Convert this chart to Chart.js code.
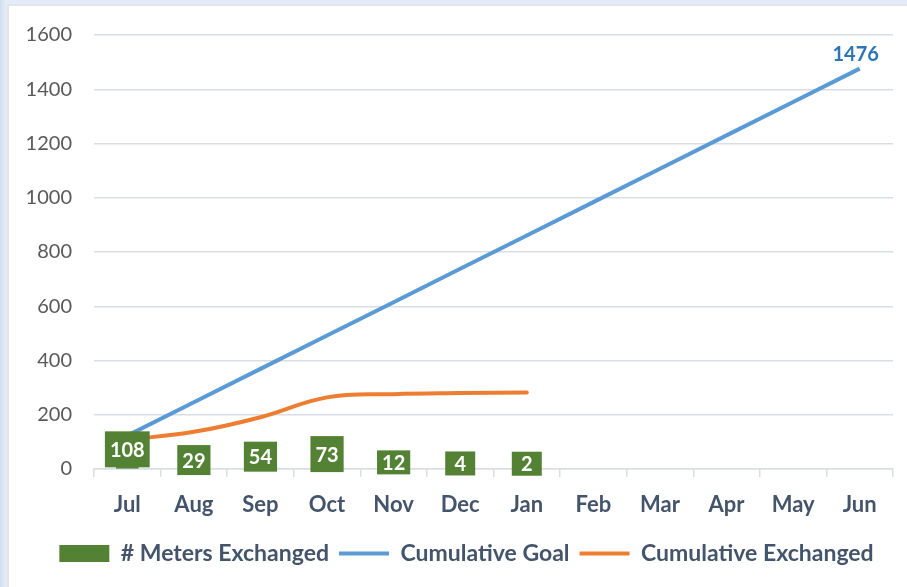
<!DOCTYPE html>
<html>
<head>
<meta charset="utf-8">
<script src="https://cdn.jsdelivr.net/npm/chart.js@4.4.1/dist/chart.umd.min.js"></script>
<style>
  html, body { margin: 0; padding: 0; }
  body { width: 907px; height: 587px; overflow: hidden; position: relative;
         background: linear-gradient(90deg, #cfdff1, #e4edf7 6px, #e4edf7); }
  #frame { position: absolute; left: 7px; top: 4px; width: 905px; height: 590px;
           background: #fff; border-left: 2px solid #e2e6eb; border-top: 2px solid #e2e6eb; }
  #chart { position: absolute; left: 0; top: 0; }
</style>
</head>
<body>
<div id="frame"></div>
<canvas id="chart" width="907" height="587"></canvas>
<script>
// dados
const months = ['Jul', 'Aug', 'Sep', 'Oct', 'Nov', 'Dec', 'Jan', 'Feb', 'Mar', 'Apr', 'May', 'Jun'];
const metersExchanged = [108, 29, 54, 73, 12, 4, 2];
const cumulativeGoal = [123, 246, 369, 492, 615, 738, 861, 984, 1107, 1230, 1353, 1476];
const cumulativeExchanged = [108, 137, 191, 264, 276, 280, 282];
const yTicks = [0, 200, 400, 600, 800, 1000, 1200, 1400, 1600];

const FONT = "Lato, 'Open Sans', sans-serif";
const GREEN = '#548235';

// caixas verdes dos rotulos + rotulo final da meta
const labelBoxes = {
    id: 'labelBoxes',
    afterLayout(chart) {
        // legenda um pouco deslocada para a direita, como no original
        chart.legend.left += 20;
        chart.legend.right += 20;
    },
    afterDatasetsDraw(chart) {
        const ctx = chart.ctx;
        const y0 = chart.scales.y.getPixelForValue(0);
        ctx.save();
        ctx.font = 'bold 20px ' + FONT;
        ctx.textAlign = 'center';
        ctx.textBaseline = 'middle';

        chart.getDatasetMeta(0).data.forEach((bar, i) => {
            const txt = String(metersExchanged[i]);
            const w = Math.max(ctx.measureText(txt).width + 10, 30);
            const h = i === 0 || i === 3 ? 36 : (i < 4 ? 30 : 24);
            const cy = (bar.y + y0) / 2 - 5;
            ctx.fillStyle = GREEN;
            ctx.fillRect(bar.x - w / 2, cy - h / 2, w, h);
            ctx.fillStyle = '#ffffff';
            ctx.fillText(txt, bar.x, cy + 1);
        });

        const goalPts = chart.getDatasetMeta(1).data;
        const last = goalPts[goalPts.length - 1];
        ctx.fillStyle = '#2e75b6';
        ctx.fillText(String(cumulativeGoal[cumulativeGoal.length - 1]), last.x - 4, last.y - 14);
        ctx.restore();
    }
};

new Chart(document.getElementById('chart').getContext('2d'), {
    type: 'bar',
    data: {
        labels: months,
        datasets: [
            { label: '# Meters Exchanged', data: metersExchanged, backgroundColor: GREEN,
              barThickness: 22, pointStyle: 'rect', borderWidth: 0, order: 3 },
            { label: 'Cumulative Goal', type: 'line', data: cumulativeGoal, borderColor: '#5b9bd5',
              backgroundColor: '#5b9bd5', borderWidth: 4, pointRadius: 0, pointStyle: 'line',
              tension: 0, order: 1 },
            { label: 'Cumulative Exchanged', type: 'line', data: cumulativeExchanged, borderColor: '#ed7d31',
              backgroundColor: '#ed7d31', borderWidth: 4, pointRadius: 0, pointStyle: 'line',
              tension: 0.4, borderCapStyle: 'round', order: 2 }
        ]
    },
    options: {
        responsive: false,
        animation: false,
        devicePixelRatio: 1,
        layout: { padding: { left: 0, right: 14, top: 35, bottom: 12 } },
        plugins: {
            tooltip: { enabled: false },
            legend: {
                position: 'bottom',
                labels: {
                    usePointStyle: true,
                    pointStyleWidth: 50,
                    boxHeight: 17,
                    padding: 10,
                    color: '#44546a',
                    font: { family: FONT, size: 23, weight: 'bold' },
                    sort: (a, b) => a.datasetIndex - b.datasetIndex
                }
            }
        },
        scales: {
            x: {
                grid: { drawOnChartArea: false, drawTicks: true, tickLength: 8, color: '#d9dee6', lineWidth: 1.5 },
                border: { color: '#d9dee6', width: 1.5 },
                ticks: { color: '#44546a', padding: 15, font: { family: FONT, size: 22, weight: 'bold' } },
                afterFit: (s) => { s.height = 63; }
            },
            y: {
                min: 0,
                max: 1600,
                afterBuildTicks: (s) => { s.ticks = yTicks.map(v => ({ value: v })); },
                ticks: { color: '#595959', padding: 22, font: { family: FONT, size: 20 },
                         callback: (v) => String(v) },
                grid: { color: '#d9dee6', lineWidth: 1.5, drawTicks: false },
                border: { display: false },
                afterFit: (s) => { s.width = 94; }
            }
        }
    },
    plugins: [labelBoxes]
});
</script>
</body>
</html>
